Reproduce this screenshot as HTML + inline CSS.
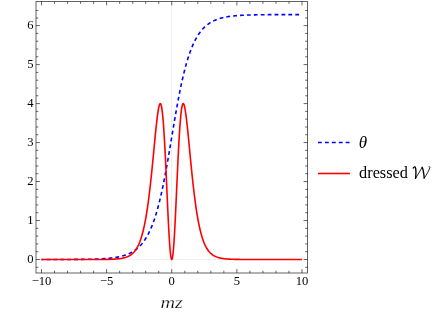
<!DOCTYPE html>
<html><head><meta charset="utf-8"><title>plot</title>
<style>html,body{margin:0;padding:0;background:#fff;}body{width:436px;height:317px;overflow:hidden;font-family:"Liberation Serif",serif;}svg{display:block;will-change:transform;transform:translateZ(0)}</style>
</head><body>
<svg width="436" height="317" viewBox="0 0 436 317"><line x1="171.5" y1="1.5" x2="171.5" y2="273.0" stroke="#efefef" stroke-width="1"/>
<line x1="36.0" y1="259.5" x2="307.5" y2="259.5" stroke="#efefef" stroke-width="1"/>
<path d="M302.00,14.59 L301.67,14.59 L301.35,14.59 L301.02,14.59 L300.70,14.59 L300.37,14.59 L300.05,14.59 L299.72,14.59 L299.39,14.59 L299.07,14.59 L298.74,14.59 L298.42,14.59 L298.09,14.59 L297.77,14.59 L297.44,14.59 L297.12,14.59 L296.79,14.59 L296.46,14.59 L296.14,14.59 L295.81,14.59 L295.49,14.59 L295.16,14.59 L294.84,14.59 L294.51,14.59 L294.19,14.59 L293.86,14.59 L293.53,14.59 L293.21,14.60 L292.88,14.60 L292.56,14.60 L292.23,14.60 L291.91,14.60 L291.58,14.60 L291.25,14.60 L290.93,14.60 L290.60,14.60 L290.28,14.60 L289.95,14.60 L289.63,14.60 L289.30,14.60 L288.98,14.60 L288.65,14.60 L288.32,14.60 L288.00,14.60 L287.67,14.60 L287.35,14.60 L287.02,14.60 L286.70,14.60 L286.37,14.60 L286.04,14.61 L285.72,14.61 L285.39,14.61 L285.07,14.61 L284.74,14.61 L284.42,14.61 L284.09,14.61 L283.76,14.61 L283.44,14.61 L283.11,14.61 L282.79,14.61 L282.46,14.61 L282.14,14.61 L281.81,14.61 L281.49,14.62 L281.16,14.62 L280.83,14.62 L280.51,14.62 L280.18,14.62 L279.86,14.62 L279.53,14.62 L279.21,14.62 L278.88,14.62 L278.56,14.62 L278.23,14.63 L277.90,14.63 L277.58,14.63 L277.25,14.63 L276.93,14.63 L276.60,14.63 L276.28,14.63 L275.95,14.63 L275.62,14.64 L275.30,14.64 L274.97,14.64 L274.65,14.64 L274.32,14.64 L274.00,14.64 L273.67,14.64 L273.35,14.65 L273.02,14.65 L272.69,14.65 L272.37,14.65 L272.04,14.65 L271.72,14.65 L271.39,14.66 L271.07,14.66 L270.74,14.66 L270.41,14.66 L270.09,14.66 L269.76,14.67 L269.44,14.67 L269.11,14.67 L268.79,14.67 L268.46,14.67 L268.14,14.68 L267.81,14.68 L267.48,14.68 L267.16,14.68 L266.83,14.69 L266.51,14.69 L266.18,14.69 L265.86,14.69 L265.53,14.70 L265.20,14.70 L264.88,14.70 L264.55,14.71 L264.23,14.71 L263.90,14.71 L263.58,14.72 L263.25,14.72 L262.93,14.72 L262.60,14.73 L262.27,14.73 L261.95,14.73 L261.62,14.74 L261.30,14.74 L260.97,14.75 L260.65,14.75 L260.32,14.76 L259.99,14.76 L259.67,14.76 L259.34,14.77 L259.02,14.77 L258.69,14.78 L258.37,14.78 L258.04,14.79 L257.72,14.79 L257.39,14.80 L257.06,14.80 L256.74,14.81 L256.41,14.82 L256.09,14.82 L255.76,14.83 L255.44,14.83 L255.11,14.84 L254.78,14.85 L254.46,14.85 L254.13,14.86 L253.81,14.87 L253.48,14.88 L253.16,14.88 L252.83,14.89 L252.50,14.90 L252.18,14.91 L251.85,14.91 L251.53,14.92 L251.20,14.93 L250.88,14.94 L250.55,14.95 L250.23,14.96 L249.90,14.97 L249.57,14.98 L249.25,14.99 L248.92,15.00 L248.60,15.01 L248.27,15.02 L247.95,15.03 L247.62,15.04 L247.30,15.05 L246.97,15.07 L246.64,15.08 L246.32,15.09 L245.99,15.10 L245.67,15.12 L245.34,15.13 L245.02,15.14 L244.69,15.16 L244.36,15.17 L244.04,15.19 L243.71,15.20 L243.39,15.22 L243.06,15.23 L242.74,15.25 L242.41,15.27 L242.09,15.29 L241.76,15.30 L241.43,15.32 L241.11,15.34 L240.78,15.36 L240.46,15.38 L240.13,15.40 L239.81,15.42 L239.48,15.44 L239.15,15.46 L238.83,15.49 L238.50,15.51 L238.18,15.53 L237.85,15.56 L237.53,15.58 L237.20,15.61 L236.88,15.63 L236.55,15.66 L236.22,15.69 L235.90,15.71 L235.57,15.74 L235.25,15.77 L234.92,15.80 L234.60,15.83 L234.27,15.86 L233.94,15.90 L233.62,15.93 L233.29,15.96 L232.97,16.00 L232.64,16.04 L232.32,16.07 L231.99,16.11 L231.67,16.15 L231.34,16.19 L231.01,16.23 L230.69,16.27 L230.36,16.31 L230.04,16.36 L229.71,16.40 L229.39,16.45 L229.06,16.50 L228.73,16.54 L228.41,16.59 L228.08,16.64 L227.76,16.70 L227.43,16.75 L227.11,16.81 L226.78,16.86 L226.46,16.92 L226.13,16.98 L225.80,17.04 L225.48,17.10 L225.15,17.17 L224.83,17.23 L224.50,17.30 L224.18,17.37 L223.85,17.44 L223.52,17.51 L223.20,17.58 L222.87,17.66 L222.55,17.74 L222.22,17.82 L221.90,17.90 L221.57,17.98 L221.25,18.07 L220.92,18.16 L220.59,18.25 L220.27,18.34 L219.94,18.44 L219.62,18.53 L219.29,18.63 L218.97,18.74 L218.64,18.84 L218.31,18.95 L217.99,19.06 L217.66,19.17 L217.34,19.29 L217.01,19.41 L216.69,19.53 L216.36,19.65 L216.03,19.78 L215.71,19.91 L215.38,20.05 L215.06,20.19 L214.73,20.33 L214.41,20.48 L214.08,20.62 L213.76,20.78 L213.43,20.93 L213.10,21.09 L212.78,21.26 L212.45,21.43 L212.13,21.60 L211.80,21.78 L211.48,21.96 L211.15,22.15 L210.82,22.34 L210.50,22.53 L210.17,22.73 L209.85,22.94 L209.52,23.15 L209.20,23.37 L208.87,23.59 L208.55,23.82 L208.22,24.05 L207.89,24.29 L207.57,24.54 L207.24,24.79 L206.92,25.04 L206.59,25.31 L206.27,25.58 L205.94,25.86 L205.62,26.14 L205.29,26.43 L204.96,26.73 L204.64,27.04 L204.31,27.35 L203.99,27.67 L203.66,28.00 L203.34,28.34 L203.01,28.69 L202.68,29.04 L202.36,29.41 L202.03,29.78 L201.71,30.16 L201.38,30.55 L201.06,30.95 L200.73,31.37 L200.41,31.79 L200.08,32.22 L199.75,32.66 L199.43,33.12 L199.10,33.58 L198.78,34.06 L198.45,34.54 L198.13,35.04 L197.80,35.56 L197.47,36.08 L197.15,36.62 L196.82,37.17 L196.50,37.73 L196.17,38.31 L195.85,38.90 L195.52,39.50 L195.20,40.12 L194.87,40.76 L194.54,41.41 L194.22,42.07 L193.89,42.75 L193.57,43.45 L193.24,44.17 L192.92,44.90 L192.59,45.64 L192.26,46.41 L191.94,47.19 L191.61,47.99 L191.29,48.81 L190.96,49.65 L190.64,50.51 L190.31,51.38 L189.99,52.28 L189.66,53.19 L189.33,54.13 L189.01,55.09 L188.68,56.07 L188.36,57.07 L188.03,58.09 L187.71,59.13 L187.38,60.20 L187.05,61.28 L186.73,62.39 L186.40,63.53 L186.08,64.68 L185.75,65.86 L185.43,67.07 L185.10,68.29 L184.78,69.55 L184.45,70.82 L184.12,72.12 L183.80,73.44 L183.47,74.79 L183.15,76.16 L182.82,77.56 L182.50,78.98 L182.17,80.43 L181.84,81.90 L181.52,83.39 L181.19,84.91 L180.87,86.45 L180.54,88.01 L180.22,89.60 L179.89,91.21 L179.57,92.84 L179.24,94.50 L178.91,96.17 L178.59,97.87 L178.26,99.59 L177.94,101.33 L177.61,103.09 L177.29,104.86 L176.96,106.66 L176.63,108.47 L176.31,110.30 L175.98,112.14 L175.66,114.00 L175.33,115.87 L175.01,117.75 L174.68,119.65 L174.36,121.55 L174.03,123.47 L173.70,125.39 L173.38,127.32 L173.05,129.26 L172.73,131.20 L172.40,133.14 L172.08,135.09 L171.75,137.04 L171.42,138.99 L171.10,140.94 L170.77,142.88 L170.45,144.82 L170.12,146.76 L169.80,148.69 L169.47,150.61 L169.15,152.53 L168.82,154.44 L168.49,156.33 L168.17,158.21 L167.84,160.09 L167.52,161.94 L167.19,163.79 L166.87,165.61 L166.54,167.42 L166.21,169.22 L165.89,171.00 L165.56,172.75 L165.24,174.49 L164.91,176.21 L164.59,177.91 L164.26,179.58 L163.94,181.24 L163.61,182.87 L163.28,184.48 L162.96,186.07 L162.63,187.63 L162.31,189.18 L161.98,190.69 L161.66,192.19 L161.33,193.66 L161.00,195.10 L160.68,196.52 L160.35,197.92 L160.03,199.29 L159.70,200.64 L159.38,201.96 L159.05,203.26 L158.72,204.54 L158.40,205.79 L158.07,207.01 L157.75,208.22 L157.42,209.40 L157.10,210.55 L156.77,211.69 L156.45,212.80 L156.12,213.89 L155.79,214.95 L155.47,215.99 L155.14,217.01 L154.82,218.01 L154.49,218.99 L154.17,219.95 L153.84,220.89 L153.51,221.80 L153.19,222.70 L152.86,223.58 L152.54,224.43 L152.21,225.27 L151.89,226.09 L151.56,226.89 L151.24,227.67 L150.91,228.44 L150.58,229.19 L150.26,229.92 L149.93,230.63 L149.61,231.33 L149.28,232.01 L148.96,232.67 L148.63,233.32 L148.31,233.96 L147.98,234.58 L147.65,235.18 L147.33,235.77 L147.00,236.35 L146.68,236.91 L146.35,237.46 L146.03,238.00 L145.70,238.53 L145.37,239.04 L145.05,239.54 L144.72,240.03 L144.40,240.50 L144.07,240.97 L143.75,241.42 L143.42,241.86 L143.09,242.29 L142.77,242.72 L142.44,243.13 L142.12,243.53 L141.79,243.92 L141.47,244.30 L141.14,244.67 L140.82,245.04 L140.49,245.39 L140.16,245.74 L139.84,246.08 L139.51,246.41 L139.19,246.73 L138.86,247.04 L138.54,247.35 L138.21,247.65 L137.88,247.94 L137.56,248.22 L137.23,248.50 L136.91,248.77 L136.58,249.04 L136.26,249.29 L135.93,249.55 L135.61,249.79 L135.28,250.03 L134.95,250.26 L134.63,250.49 L134.30,250.71 L133.98,250.93 L133.65,251.14 L133.33,251.35 L133.00,251.55 L132.68,251.74 L132.35,251.93 L132.02,252.12 L131.70,252.30 L131.37,252.48 L131.05,252.65 L130.72,252.82 L130.40,252.99 L130.07,253.15 L129.74,253.30 L129.42,253.46 L129.09,253.61 L128.77,253.75 L128.44,253.89 L128.12,254.03 L127.79,254.17 L127.47,254.30 L127.14,254.43 L126.81,254.55 L126.49,254.67 L126.16,254.79 L125.84,254.91 L125.51,255.02 L125.19,255.13 L124.86,255.24 L124.53,255.35 L124.21,255.45 L123.88,255.55 L123.56,255.65 L123.23,255.74 L122.91,255.83 L122.58,255.92 L122.25,256.01 L121.93,256.10 L121.60,256.18 L121.28,256.26 L120.95,256.34 L120.63,256.42 L120.30,256.50 L119.98,256.57 L119.65,256.64 L119.32,256.72 L119.00,256.78 L118.67,256.85 L118.35,256.92 L118.02,256.98 L117.70,257.04 L117.37,257.10 L117.05,257.16 L116.72,257.22 L116.39,257.28 L116.07,257.33 L115.74,257.38 L115.42,257.44 L115.09,257.49 L114.77,257.54 L114.44,257.59 L114.11,257.63 L113.79,257.68 L113.46,257.72 L113.14,257.77 L112.81,257.81 L112.49,257.85 L112.16,257.89 L111.84,257.93 L111.51,257.97 L111.18,258.01 L110.86,258.05 L110.53,258.08 L110.21,258.12 L109.88,258.15 L109.56,258.18 L109.23,258.22 L108.90,258.25 L108.58,258.28 L108.25,258.31 L107.93,258.34 L107.60,258.37 L107.28,258.40 L106.95,258.42 L106.62,258.45 L106.30,258.48 L105.97,258.50 L105.65,258.53 L105.32,258.55 L105.00,258.57 L104.67,258.60 L104.35,258.62 L104.02,258.64 L103.69,258.66 L103.37,258.68 L103.04,258.70 L102.72,258.72 L102.39,258.74 L102.07,258.76 L101.74,258.78 L101.42,258.80 L101.09,258.81 L100.76,258.83 L100.44,258.85 L100.11,258.86 L99.79,258.88 L99.46,258.89 L99.14,258.91 L98.81,258.92 L98.48,258.94 L98.16,258.95 L97.83,258.97 L97.51,258.98 L97.18,258.99 L96.86,259.00 L96.53,259.02 L96.20,259.03 L95.88,259.04 L95.55,259.05 L95.23,259.06 L94.90,259.07 L94.58,259.08 L94.25,259.09 L93.93,259.10 L93.60,259.11 L93.27,259.12 L92.95,259.13 L92.62,259.14 L92.30,259.15 L91.97,259.16 L91.65,259.17 L91.32,259.18 L91.00,259.18 L90.67,259.19 L90.34,259.20 L90.02,259.21 L89.69,259.21 L89.37,259.22 L89.04,259.23 L88.72,259.23 L88.39,259.24 L88.06,259.25 L87.74,259.25 L87.41,259.26 L87.09,259.27 L86.76,259.27 L86.44,259.28 L86.11,259.28 L85.78,259.29 L85.46,259.29 L85.13,259.30 L84.81,259.30 L84.48,259.31 L84.16,259.31 L83.83,259.32 L83.51,259.32 L83.18,259.33 L82.85,259.33 L82.53,259.33 L82.20,259.34 L81.88,259.34 L81.55,259.35 L81.23,259.35 L80.90,259.35 L80.58,259.36 L80.25,259.36 L79.92,259.36 L79.60,259.37 L79.27,259.37 L78.95,259.37 L78.62,259.38 L78.30,259.38 L77.97,259.38 L77.64,259.39 L77.32,259.39 L76.99,259.39 L76.67,259.39 L76.34,259.40 L76.02,259.40 L75.69,259.40 L75.36,259.40 L75.04,259.41 L74.71,259.41 L74.39,259.41 L74.06,259.41 L73.74,259.42 L73.41,259.42 L73.09,259.42 L72.76,259.42 L72.43,259.42 L72.11,259.43 L71.78,259.43 L71.46,259.43 L71.13,259.43 L70.81,259.43 L70.48,259.43 L70.16,259.44 L69.83,259.44 L69.50,259.44 L69.18,259.44 L68.85,259.44 L68.53,259.44 L68.20,259.45 L67.88,259.45 L67.55,259.45 L67.22,259.45 L66.90,259.45 L66.57,259.45 L66.25,259.45 L65.92,259.45 L65.60,259.45 L65.27,259.46 L64.95,259.46 L64.62,259.46 L64.29,259.46 L63.97,259.46 L63.64,259.46 L63.32,259.46 L62.99,259.46 L62.67,259.46 L62.34,259.46 L62.01,259.47 L61.69,259.47 L61.36,259.47 L61.04,259.47 L60.71,259.47 L60.39,259.47 L60.06,259.47 L59.73,259.47 L59.41,259.47 L59.08,259.47 L58.76,259.47 L58.43,259.47 L58.11,259.47 L57.78,259.48 L57.46,259.48 L57.13,259.48 L56.80,259.48 L56.48,259.48 L56.15,259.48 L55.83,259.48 L55.50,259.48 L55.18,259.48 L54.85,259.48 L54.52,259.48 L54.20,259.48 L53.87,259.48 L53.55,259.48 L53.22,259.48 L52.90,259.48 L52.57,259.48 L52.25,259.48 L51.92,259.48 L51.59,259.48 L51.27,259.49 L50.94,259.49 L50.62,259.49 L50.29,259.49 L49.97,259.49 L49.64,259.49 L49.31,259.49 L48.99,259.49 L48.66,259.49 L48.34,259.49 L48.01,259.49 L47.69,259.49 L47.36,259.49 L47.04,259.49 L46.71,259.49 L46.38,259.49 L46.06,259.49 L45.73,259.49 L45.41,259.49 L45.08,259.49 L44.76,259.49 L44.43,259.49 L44.10,259.49 L43.78,259.49 L43.45,259.49 L43.13,259.49 L42.80,259.49 L42.48,259.49 L42.15,259.49 L41.83,259.49 L41.50,259.49" fill="none" stroke="#0000ff" stroke-width="1.6" stroke-dasharray="3.8 3.1" stroke-dashoffset="3.95"/>
<path d="M41.50,259.50 L41.83,259.50 L42.15,259.50 L42.48,259.50 L42.80,259.50 L43.13,259.50 L43.45,259.50 L43.78,259.50 L44.10,259.50 L44.43,259.50 L44.76,259.50 L45.08,259.50 L45.41,259.50 L45.73,259.50 L46.06,259.50 L46.38,259.50 L46.71,259.50 L47.04,259.50 L47.36,259.50 L47.69,259.50 L48.01,259.50 L48.34,259.50 L48.66,259.50 L48.99,259.50 L49.31,259.50 L49.64,259.50 L49.97,259.50 L50.29,259.50 L50.62,259.50 L50.94,259.50 L51.27,259.50 L51.59,259.50 L51.92,259.50 L52.25,259.50 L52.57,259.50 L52.90,259.50 L53.22,259.50 L53.55,259.50 L53.87,259.50 L54.20,259.50 L54.52,259.50 L54.85,259.50 L55.18,259.50 L55.50,259.50 L55.83,259.50 L56.15,259.50 L56.48,259.50 L56.80,259.50 L57.13,259.50 L57.46,259.50 L57.78,259.50 L58.11,259.50 L58.43,259.50 L58.76,259.50 L59.08,259.50 L59.41,259.50 L59.73,259.50 L60.06,259.50 L60.39,259.50 L60.71,259.50 L61.04,259.50 L61.36,259.50 L61.69,259.50 L62.01,259.50 L62.34,259.50 L62.67,259.50 L62.99,259.50 L63.32,259.50 L63.64,259.50 L63.97,259.50 L64.29,259.50 L64.62,259.50 L64.95,259.50 L65.27,259.50 L65.60,259.50 L65.92,259.50 L66.25,259.50 L66.57,259.50 L66.90,259.50 L67.22,259.50 L67.55,259.50 L67.88,259.50 L68.20,259.50 L68.53,259.50 L68.85,259.50 L69.18,259.50 L69.50,259.50 L69.83,259.50 L70.16,259.50 L70.48,259.50 L70.81,259.50 L71.13,259.50 L71.46,259.50 L71.78,259.50 L72.11,259.50 L72.43,259.50 L72.76,259.50 L73.09,259.50 L73.41,259.50 L73.74,259.50 L74.06,259.50 L74.39,259.50 L74.71,259.50 L75.04,259.50 L75.36,259.50 L75.69,259.50 L76.02,259.50 L76.34,259.50 L76.67,259.50 L76.99,259.50 L77.32,259.50 L77.64,259.50 L77.97,259.50 L78.30,259.50 L78.62,259.50 L78.95,259.50 L79.27,259.50 L79.60,259.50 L79.92,259.50 L80.25,259.50 L80.58,259.50 L80.90,259.50 L81.23,259.50 L81.55,259.50 L81.88,259.50 L82.20,259.50 L82.53,259.50 L82.85,259.50 L83.18,259.50 L83.51,259.50 L83.83,259.50 L84.16,259.50 L84.48,259.50 L84.81,259.50 L85.13,259.50 L85.46,259.50 L85.78,259.50 L86.11,259.50 L86.44,259.49 L86.76,259.49 L87.09,259.49 L87.41,259.49 L87.74,259.49 L88.06,259.49 L88.39,259.49 L88.72,259.49 L89.04,259.49 L89.37,259.49 L89.69,259.49 L90.02,259.49 L90.34,259.49 L90.67,259.49 L91.00,259.49 L91.32,259.49 L91.65,259.49 L91.97,259.49 L92.30,259.49 L92.62,259.49 L92.95,259.49 L93.27,259.49 L93.60,259.48 L93.93,259.48 L94.25,259.48 L94.58,259.48 L94.90,259.48 L95.23,259.48 L95.55,259.48 L95.88,259.48 L96.20,259.48 L96.53,259.48 L96.86,259.47 L97.18,259.47 L97.51,259.47 L97.83,259.47 L98.16,259.47 L98.48,259.47 L98.81,259.47 L99.14,259.46 L99.46,259.46 L99.79,259.46 L100.11,259.46 L100.44,259.46 L100.76,259.45 L101.09,259.45 L101.42,259.45 L101.74,259.45 L102.07,259.44 L102.39,259.44 L102.72,259.44 L103.04,259.43 L103.37,259.43 L103.69,259.43 L104.02,259.42 L104.35,259.42 L104.67,259.42 L105.00,259.41 L105.32,259.41 L105.65,259.40 L105.97,259.40 L106.30,259.39 L106.62,259.39 L106.95,259.38 L107.28,259.37 L107.60,259.37 L107.93,259.36 L108.25,259.35 L108.58,259.35 L108.90,259.34 L109.23,259.33 L109.56,259.32 L109.88,259.31 L110.21,259.30 L110.53,259.29 L110.86,259.28 L111.18,259.27 L111.51,259.26 L111.84,259.25 L112.16,259.24 L112.49,259.22 L112.81,259.21 L113.14,259.19 L113.46,259.18 L113.79,259.16 L114.11,259.14 L114.44,259.12 L114.77,259.11 L115.09,259.08 L115.42,259.06 L115.74,259.04 L116.07,259.02 L116.39,258.99 L116.72,258.97 L117.05,258.94 L117.37,258.91 L117.70,258.88 L118.02,258.85 L118.35,258.82 L118.67,258.78 L119.00,258.74 L119.32,258.71 L119.65,258.66 L119.98,258.62 L120.30,258.58 L120.63,258.53 L120.95,258.48 L121.28,258.43 L121.60,258.37 L121.93,258.32 L122.25,258.26 L122.58,258.19 L122.91,258.12 L123.23,258.05 L123.56,257.98 L123.88,257.90 L124.21,257.82 L124.53,257.74 L124.86,257.65 L125.19,257.55 L125.51,257.45 L125.84,257.35 L126.16,257.24 L126.49,257.12 L126.81,257.00 L127.14,256.87 L127.47,256.74 L127.79,256.60 L128.12,256.45 L128.44,256.30 L128.77,256.13 L129.09,255.96 L129.42,255.78 L129.74,255.59 L130.07,255.40 L130.40,255.19 L130.72,254.97 L131.05,254.74 L131.37,254.50 L131.70,254.25 L132.02,253.98 L132.35,253.70 L132.68,253.41 L133.00,253.10 L133.33,252.78 L133.65,252.44 L133.98,252.08 L134.30,251.71 L134.63,251.32 L134.95,250.91 L135.28,250.48 L135.61,250.03 L135.93,249.55 L136.26,249.05 L136.58,248.53 L136.91,247.99 L137.23,247.41 L137.56,246.81 L137.88,246.19 L138.21,245.53 L138.54,244.84 L138.86,244.11 L139.19,243.36 L139.51,242.56 L139.84,241.73 L140.16,240.87 L140.49,239.96 L140.82,239.01 L141.14,238.01 L141.47,236.97 L141.79,235.89 L142.12,234.75 L142.44,233.57 L142.77,232.33 L143.09,231.04 L143.42,229.70 L143.75,228.29 L144.07,226.83 L144.40,225.30 L144.72,223.71 L145.05,222.06 L145.37,220.34 L145.70,218.55 L146.03,216.69 L146.35,214.76 L146.68,212.76 L147.00,210.68 L147.33,208.52 L147.65,206.29 L147.98,203.99 L148.31,201.60 L148.63,199.14 L148.96,196.60 L149.28,193.98 L149.61,191.28 L149.93,188.51 L150.26,185.66 L150.58,182.74 L150.91,179.75 L151.24,176.69 L151.56,173.57 L151.89,170.40 L152.21,167.16 L152.54,163.88 L152.86,160.56 L153.19,157.21 L153.51,153.83 L153.84,150.44 L154.17,147.04 L154.49,143.65 L154.82,140.28 L155.14,136.94 L155.47,133.65 L155.79,130.43 L156.12,127.29 L156.45,124.25 L156.77,121.33 L157.10,118.56 L157.42,115.94 L157.75,113.52 L158.07,111.30 L158.40,109.31 L158.72,107.57 L159.05,106.12 L159.38,104.97 L159.70,104.15 L160.03,103.69 L160.35,103.59 L160.68,103.89 L161.00,104.61 L161.33,105.76 L161.66,107.35 L161.98,109.40 L162.31,111.92 L162.63,114.90 L162.96,118.36 L163.28,122.29 L163.61,126.67 L163.94,131.50 L164.26,136.75 L164.59,142.40 L164.91,148.41 L165.24,154.75 L165.56,161.38 L165.89,168.25 L166.21,175.29 L166.54,182.46 L166.87,189.69 L167.19,196.92 L167.52,204.06 L167.84,211.06 L168.17,217.84 L168.49,224.33 L168.82,230.46 L169.15,236.15 L169.47,241.34 L169.80,245.98 L170.12,250.00 L170.45,253.37 L170.77,256.02 L171.10,257.95 L171.42,259.11 L171.75,259.50 L172.08,259.11 L172.40,257.95 L172.73,256.02 L173.05,253.37 L173.38,250.00 L173.70,245.98 L174.03,241.34 L174.36,236.15 L174.68,230.46 L175.01,224.33 L175.33,217.84 L175.66,211.06 L175.98,204.06 L176.31,196.92 L176.63,189.69 L176.96,182.46 L177.29,175.29 L177.61,168.25 L177.94,161.38 L178.26,154.75 L178.59,148.41 L178.91,142.40 L179.24,136.75 L179.57,131.50 L179.89,126.67 L180.22,122.29 L180.54,118.36 L180.87,114.90 L181.19,111.92 L181.52,109.40 L181.84,107.35 L182.17,105.76 L182.50,104.61 L182.82,103.89 L183.15,103.59 L183.47,103.69 L183.80,104.15 L184.12,104.97 L184.45,106.12 L184.78,107.57 L185.10,109.31 L185.43,111.30 L185.75,113.52 L186.08,115.94 L186.40,118.56 L186.73,121.33 L187.05,124.25 L187.38,127.29 L187.71,130.43 L188.03,133.65 L188.36,136.94 L188.68,140.28 L189.01,143.65 L189.33,147.04 L189.66,150.44 L189.99,153.83 L190.31,157.21 L190.64,160.56 L190.96,163.88 L191.29,167.16 L191.61,170.40 L191.94,173.57 L192.26,176.69 L192.59,179.75 L192.92,182.74 L193.24,185.66 L193.57,188.51 L193.89,191.28 L194.22,193.98 L194.54,196.60 L194.87,199.14 L195.20,201.60 L195.52,203.99 L195.85,206.29 L196.17,208.52 L196.50,210.68 L196.82,212.76 L197.15,214.76 L197.47,216.69 L197.80,218.55 L198.13,220.34 L198.45,222.06 L198.78,223.71 L199.10,225.30 L199.43,226.83 L199.75,228.29 L200.08,229.70 L200.41,231.04 L200.73,232.33 L201.06,233.57 L201.38,234.75 L201.71,235.89 L202.03,236.97 L202.36,238.01 L202.68,239.01 L203.01,239.96 L203.34,240.87 L203.66,241.73 L203.99,242.56 L204.31,243.36 L204.64,244.11 L204.96,244.84 L205.29,245.53 L205.62,246.19 L205.94,246.81 L206.27,247.41 L206.59,247.99 L206.92,248.53 L207.24,249.05 L207.57,249.55 L207.89,250.03 L208.22,250.48 L208.55,250.91 L208.87,251.32 L209.20,251.71 L209.52,252.08 L209.85,252.44 L210.17,252.78 L210.50,253.10 L210.82,253.41 L211.15,253.70 L211.48,253.98 L211.80,254.25 L212.13,254.50 L212.45,254.74 L212.78,254.97 L213.10,255.19 L213.43,255.40 L213.76,255.59 L214.08,255.78 L214.41,255.96 L214.73,256.13 L215.06,256.30 L215.38,256.45 L215.71,256.60 L216.03,256.74 L216.36,256.87 L216.69,257.00 L217.01,257.12 L217.34,257.24 L217.66,257.35 L217.99,257.45 L218.31,257.55 L218.64,257.65 L218.97,257.74 L219.29,257.82 L219.62,257.90 L219.94,257.98 L220.27,258.05 L220.59,258.12 L220.92,258.19 L221.25,258.26 L221.57,258.32 L221.90,258.37 L222.22,258.43 L222.55,258.48 L222.87,258.53 L223.20,258.58 L223.52,258.62 L223.85,258.66 L224.18,258.71 L224.50,258.74 L224.83,258.78 L225.15,258.82 L225.48,258.85 L225.80,258.88 L226.13,258.91 L226.46,258.94 L226.78,258.97 L227.11,258.99 L227.43,259.02 L227.76,259.04 L228.08,259.06 L228.41,259.08 L228.73,259.11 L229.06,259.12 L229.39,259.14 L229.71,259.16 L230.04,259.18 L230.36,259.19 L230.69,259.21 L231.01,259.22 L231.34,259.24 L231.67,259.25 L231.99,259.26 L232.32,259.27 L232.64,259.28 L232.97,259.29 L233.29,259.30 L233.62,259.31 L233.94,259.32 L234.27,259.33 L234.60,259.34 L234.92,259.35 L235.25,259.35 L235.57,259.36 L235.90,259.37 L236.22,259.37 L236.55,259.38 L236.88,259.39 L237.20,259.39 L237.53,259.40 L237.85,259.40 L238.18,259.41 L238.50,259.41 L238.83,259.42 L239.15,259.42 L239.48,259.42 L239.81,259.43 L240.13,259.43 L240.46,259.43 L240.78,259.44 L241.11,259.44 L241.43,259.44 L241.76,259.45 L242.09,259.45 L242.41,259.45 L242.74,259.45 L243.06,259.46 L243.39,259.46 L243.71,259.46 L244.04,259.46 L244.36,259.46 L244.69,259.47 L245.02,259.47 L245.34,259.47 L245.67,259.47 L245.99,259.47 L246.32,259.47 L246.64,259.47 L246.97,259.48 L247.30,259.48 L247.62,259.48 L247.95,259.48 L248.27,259.48 L248.60,259.48 L248.92,259.48 L249.25,259.48 L249.57,259.48 L249.90,259.48 L250.23,259.49 L250.55,259.49 L250.88,259.49 L251.20,259.49 L251.53,259.49 L251.85,259.49 L252.18,259.49 L252.50,259.49 L252.83,259.49 L253.16,259.49 L253.48,259.49 L253.81,259.49 L254.13,259.49 L254.46,259.49 L254.78,259.49 L255.11,259.49 L255.44,259.49 L255.76,259.49 L256.09,259.49 L256.41,259.49 L256.74,259.49 L257.06,259.49 L257.39,259.50 L257.72,259.50 L258.04,259.50 L258.37,259.50 L258.69,259.50 L259.02,259.50 L259.34,259.50 L259.67,259.50 L259.99,259.50 L260.32,259.50 L260.65,259.50 L260.97,259.50 L261.30,259.50 L261.62,259.50 L261.95,259.50 L262.27,259.50 L262.60,259.50 L262.93,259.50 L263.25,259.50 L263.58,259.50 L263.90,259.50 L264.23,259.50 L264.55,259.50 L264.88,259.50 L265.20,259.50 L265.53,259.50 L265.86,259.50 L266.18,259.50 L266.51,259.50 L266.83,259.50 L267.16,259.50 L267.48,259.50 L267.81,259.50 L268.14,259.50 L268.46,259.50 L268.79,259.50 L269.11,259.50 L269.44,259.50 L269.76,259.50 L270.09,259.50 L270.41,259.50 L270.74,259.50 L271.07,259.50 L271.39,259.50 L271.72,259.50 L272.04,259.50 L272.37,259.50 L272.69,259.50 L273.02,259.50 L273.35,259.50 L273.67,259.50 L274.00,259.50 L274.32,259.50 L274.65,259.50 L274.97,259.50 L275.30,259.50 L275.62,259.50 L275.95,259.50 L276.28,259.50 L276.60,259.50 L276.93,259.50 L277.25,259.50 L277.58,259.50 L277.90,259.50 L278.23,259.50 L278.56,259.50 L278.88,259.50 L279.21,259.50 L279.53,259.50 L279.86,259.50 L280.18,259.50 L280.51,259.50 L280.83,259.50 L281.16,259.50 L281.49,259.50 L281.81,259.50 L282.14,259.50 L282.46,259.50 L282.79,259.50 L283.11,259.50 L283.44,259.50 L283.76,259.50 L284.09,259.50 L284.42,259.50 L284.74,259.50 L285.07,259.50 L285.39,259.50 L285.72,259.50 L286.04,259.50 L286.37,259.50 L286.70,259.50 L287.02,259.50 L287.35,259.50 L287.67,259.50 L288.00,259.50 L288.32,259.50 L288.65,259.50 L288.98,259.50 L289.30,259.50 L289.63,259.50 L289.95,259.50 L290.28,259.50 L290.60,259.50 L290.93,259.50 L291.25,259.50 L291.58,259.50 L291.91,259.50 L292.23,259.50 L292.56,259.50 L292.88,259.50 L293.21,259.50 L293.53,259.50 L293.86,259.50 L294.19,259.50 L294.51,259.50 L294.84,259.50 L295.16,259.50 L295.49,259.50 L295.81,259.50 L296.14,259.50 L296.46,259.50 L296.79,259.50 L297.12,259.50 L297.44,259.50 L297.77,259.50 L298.09,259.50 L298.42,259.50 L298.74,259.50 L299.07,259.50 L299.39,259.50 L299.72,259.50 L300.05,259.50 L300.37,259.50 L300.70,259.50 L301.02,259.50 L301.35,259.50 L301.67,259.50 L302.00,259.50" fill="none" stroke="#ff0000" stroke-width="1.6" stroke-linejoin="round"/>
<rect x="36.0" y="1.5" width="271.5" height="271.5" fill="none" stroke="#222" stroke-width="0.7"/>
<path d="M41.50,273.0 v-3.9 M41.50,1.5 v3.9 M54.52,273.0 v-2.3 M54.52,1.5 v2.3 M67.55,273.0 v-2.3 M67.55,1.5 v2.3 M80.58,273.0 v-2.3 M80.58,1.5 v2.3 M93.60,273.0 v-2.3 M93.60,1.5 v2.3 M106.62,273.0 v-3.9 M106.62,1.5 v3.9 M119.65,273.0 v-2.3 M119.65,1.5 v2.3 M132.68,273.0 v-2.3 M132.68,1.5 v2.3 M145.70,273.0 v-2.3 M145.70,1.5 v2.3 M158.72,273.0 v-2.3 M158.72,1.5 v2.3 M171.75,273.0 v-3.9 M171.75,1.5 v3.9 M184.78,273.0 v-2.3 M184.78,1.5 v2.3 M197.80,273.0 v-2.3 M197.80,1.5 v2.3 M210.82,273.0 v-2.3 M210.82,1.5 v2.3 M223.85,273.0 v-2.3 M223.85,1.5 v2.3 M236.88,273.0 v-3.9 M236.88,1.5 v3.9 M249.90,273.0 v-2.3 M249.90,1.5 v2.3 M262.93,273.0 v-2.3 M262.93,1.5 v2.3 M275.95,273.0 v-2.3 M275.95,1.5 v2.3 M288.98,273.0 v-2.3 M288.98,1.5 v2.3 M302.00,273.0 v-3.9 M302.00,1.5 v3.9 M36.0,259.50 h3.9 M307.5,259.50 h-3.9 M36.0,251.70 h2.3 M307.5,251.70 h-2.3 M36.0,243.91 h2.3 M307.5,243.91 h-2.3 M36.0,236.11 h2.3 M307.5,236.11 h-2.3 M36.0,228.32 h2.3 M307.5,228.32 h-2.3 M36.0,220.52 h3.9 M307.5,220.52 h-3.9 M36.0,212.72 h2.3 M307.5,212.72 h-2.3 M36.0,204.93 h2.3 M307.5,204.93 h-2.3 M36.0,197.13 h2.3 M307.5,197.13 h-2.3 M36.0,189.34 h2.3 M307.5,189.34 h-2.3 M36.0,181.54 h3.9 M307.5,181.54 h-3.9 M36.0,173.74 h2.3 M307.5,173.74 h-2.3 M36.0,165.95 h2.3 M307.5,165.95 h-2.3 M36.0,158.15 h2.3 M307.5,158.15 h-2.3 M36.0,150.36 h2.3 M307.5,150.36 h-2.3 M36.0,142.56 h3.9 M307.5,142.56 h-3.9 M36.0,134.76 h2.3 M307.5,134.76 h-2.3 M36.0,126.97 h2.3 M307.5,126.97 h-2.3 M36.0,119.17 h2.3 M307.5,119.17 h-2.3 M36.0,111.38 h2.3 M307.5,111.38 h-2.3 M36.0,103.58 h3.9 M307.5,103.58 h-3.9 M36.0,95.78 h2.3 M307.5,95.78 h-2.3 M36.0,87.99 h2.3 M307.5,87.99 h-2.3 M36.0,80.19 h2.3 M307.5,80.19 h-2.3 M36.0,72.40 h2.3 M307.5,72.40 h-2.3 M36.0,64.60 h3.9 M307.5,64.60 h-3.9 M36.0,56.80 h2.3 M307.5,56.80 h-2.3 M36.0,49.01 h2.3 M307.5,49.01 h-2.3 M36.0,41.21 h2.3 M307.5,41.21 h-2.3 M36.0,33.42 h2.3 M307.5,33.42 h-2.3 M36.0,25.62 h3.9 M307.5,25.62 h-3.9 M36.0,18.00 h2.3 M307.5,18.00 h-2.3 M36.0,10.50 h2.3 M307.5,10.50 h-2.3 M36.0,267.30 h2.3 M307.5,267.30 h-2.3" fill="none" stroke="#222" stroke-width="0.7"/>
<g font-family="Liberation Serif, serif" font-size="12.6" fill="#000"><text x="33.6" y="262.80" text-anchor="end">0</text><text x="33.6" y="223.82" text-anchor="end">1</text><text x="33.6" y="184.84" text-anchor="end">2</text><text x="33.6" y="145.86" text-anchor="end">3</text><text x="33.6" y="106.88" text-anchor="end">4</text><text x="33.6" y="67.90" text-anchor="end">5</text><text x="33.6" y="28.92" text-anchor="end">6</text><text x="41.50" y="284.9" text-anchor="middle">−10</text><text x="106.62" y="284.9" text-anchor="middle">−5</text><text x="171.75" y="284.9" text-anchor="middle">0</text><text x="236.88" y="284.9" text-anchor="middle">5</text><text x="302.00" y="284.9" text-anchor="middle">10</text></g>
<text x="160.4" y="308.0" textLength="22.4" lengthAdjust="spacingAndGlyphs" font-family="Liberation Serif, serif" font-style="italic" font-size="16.5" fill="#000" stroke="#fff" stroke-width="0.25">mz</text>
<line x1="318" y1="142.5" x2="350" y2="142.5" stroke="#0000ff" stroke-width="1.6" stroke-dasharray="3.85 3.08"/>
<line x1="318" y1="173.5" x2="350" y2="173.5" stroke="#ff0000" stroke-width="1.6"/>
<text x="358.8" y="147.7" font-family="Liberation Serif, serif" font-style="italic" font-size="17" fill="#000">θ</text>
<text x="359.1" y="178.3" textLength="48.8" lengthAdjust="spacingAndGlyphs" font-family="Liberation Serif, serif" font-size="16" fill="#000">dressed</text>
<g fill="none" stroke="#000" stroke-linecap="round" stroke-linejoin="round"><path d="M413.3,168.0 C413.7,167.0 414.6,166.6 415.2,167.1 C416.1,168.6 416.0,174 415.6,178.3" stroke-width="1.35"/><path d="M415.6,178.3 L422.2,167.3" stroke-width="0.85"/><path d="M422.2,167.3 C423.3,170 423.9,174 424.2,178.1" stroke-width="1.35"/><path d="M424.2,178.1 C426.5,175 429,170.5 429.9,167.5 C430.2,166.7 429.6,166.5 429.0,166.7" stroke-width="0.85"/></g></svg>
</body></html>
